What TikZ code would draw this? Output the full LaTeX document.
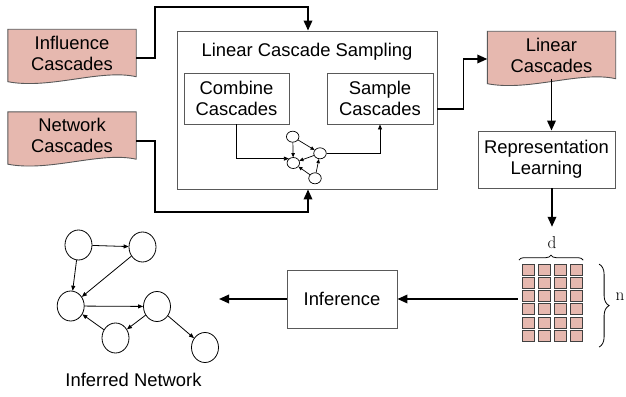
\documentclass[tikz,border=0pt]{standalone}
\usepackage[no-math]{fontspec}
\setmainfont{Liberation Sans}
\usepackage{tikz}
\usetikzlibrary{positioning,arrows.meta,shapes.geometric,decorations.pathreplacing,backgrounds,calc}
\definecolor{docpink}{HTML}{E6B8AF}
\definecolor{edgegray}{HTML}{595959}

\begin{document}
\begin{tikzpicture}[
  x=1pt, y=-1pt,
  font=\fontsize{18.4}{21}\selectfont,
  box/.style={draw=edgegray, line width=0.9pt, align=center, inner sep=0pt},
  doc/.style={align=center, minimum width=128pt, minimum height=47pt, inner sep=0pt},
  docfill/.style={fill=docpink, draw=edgegray, line width=0.9pt},
  cell/.style={draw=black!75, fill=docpink, line width=0.9pt, minimum width=12.3pt, minimum height=11pt, inner sep=0pt},
  gnode/.style={draw, ellipse, line width=0.8pt, minimum width=27pt, minimum height=30pt, inner sep=0pt},
  snode/.style={draw, ellipse, line width=0.7pt, minimum width=12.5pt, minimum height=11pt, inner sep=0pt},
  dimlbl/.style={inner sep=0pt, font=\fontsize{17}{17}\selectfont},
  bigarr/.style={-{Triangle[length=10pt,width=8.5pt]}, line width=1.8pt},
  arr/.style={-{Triangle[length=5pt,width=4pt]}, line width=0.8pt},
  sarr/.style={-{Triangle[length=4pt,width=3.5pt]}, line width=0.7pt}
]
\useasboundingbox (0,0) rectangle (626,396);

% inputs and sampling
\node[doc] (infl) at (72,53) {Influence\\Cascades};
\node[doc] (netw) at (72,135.5) {Network\\Cascades};
\node[box, minimum width=260pt, minimum height=158pt] (samp) at (307,110) {};
\node (title) at (307,52) {Linear Cascade Sampling};
\node[box, minimum width=105pt, minimum height=51pt] (comb) at (236.5,98.5) {Combine\\Cascades};
\node[box, minimum width=106pt, minimum height=51pt] (smp) at (380,98.5) {Sample\\Cascades};
\node[snode] (g1) at (292.7,136.7) {};
\node[snode] (g2) at (320,153.3) {};
\node[snode] (g3) at (293.3,163) {};
\node[snode] (g4) at (315,178.3) {};

% output side
\node[doc] (lin) at (551.5,55) {Linear\\Cascades};
\node[box, minimum width=137pt, minimum height=57pt] (rep) at (546.5,159.5) {Representation\\Learning};
\node[dimlbl] (dlab) at (552,242) {$\mathrm{d}$};
\foreach \i in {0,...,3}
  \foreach \j in {0,...,5}
    \node[cell] (c\i\j) at (528.5+16*\i, 270.1+13.1*\j) {};
\node[dimlbl] (nlab) at (620,297) {$\mathrm{n}$};
\node[box, minimum width=110pt, minimum height=58pt] (infer) at (342,299) {Inference};

% inferred network
\node[gnode] (na) at (78.5,245) {};
\node[gnode] (nb) at (142.5,247) {};
\node[gnode] (nc) at (70.7,306) {};
\node[gnode] (nd) at (157,306.5) {};
\node[gnode] (ne) at (115.5,338) {};
\node[gnode] (nf) at (205,347.5) {};
\node (netlbl) at (133.5,380) {Inferred Network};

\begin{scope}[on background layer]
\foreach \d in {infl,netw,lin}
  \draw[docfill] (\d.north west) -- (\d.north east) -- (\d.south east)
    .. controls +(-36,-8) and +(42,8) .. ($(\d.south west)+(0,5)$) -- cycle;
\end{scope}

\draw[decorate, decoration={brace, amplitude=5pt}, line width=0.8pt]
  ($(c00.north west)+(-3,-4)$) -- ($(c30.north east)+(0,-4)$);
\draw[decorate, decoration={brace, amplitude=10pt}, line width=0.8pt]
  ($(c30.north east)+(16,0)$) -- ($(c35.south east)+(16,5.5)$);

\coordinate (topin) at (308,7);
\coordinate (botin) at (308,212);
\coordinate (sout) at ([yshift=-10.5pt]smp.east);
\coordinate (netin) at (219,299);

\draw[bigarr] ([yshift=-5pt]infl.east) -- ++(19,0) |- (topin) -- (topin |- samp.north);
\draw[bigarr] ([yshift=-5.5pt]netw.east) -- ++(19,0) |- (botin) -- (botin |- samp.south);
\draw[arr] (comb.south) |- (g3.135);
\draw[arr] (g2.east) -| (smp.south);
\draw[sarr] (g1) -- (g3); \draw[sarr] (g1) -- (g2); \draw[sarr] (g2) -- (g3);
\draw[sarr] (g4) -- (g3); \draw[sarr] (g4) -- (g2);
\draw[bigarr] (sout -| samp.east) -- ++(26,0) |- ([yshift=-4pt]lin.west);
\draw[bigarr] (lin.south) -- (lin.south |- rep.north);
\draw[bigarr] (dlab.north |- rep.south) -- ($(dlab.north)+(0,-9)$);
\draw[bigarr] ($(infer.east -| c02.west)+(-4,0)$) -- (infer.east);
\draw[bigarr] (infer.west) -- (netin);

\draw[arr] (na) -- (nb); \draw[arr] (na) -- (nc); \draw[arr] (nb) -- (nc);
\draw[arr] (nc) -- (nd); \draw[arr] (ne) -- (nc); \draw[arr] (nd) -- (ne);
\draw[arr] (nd) -- (nf);
\end{tikzpicture}
\end{document}
